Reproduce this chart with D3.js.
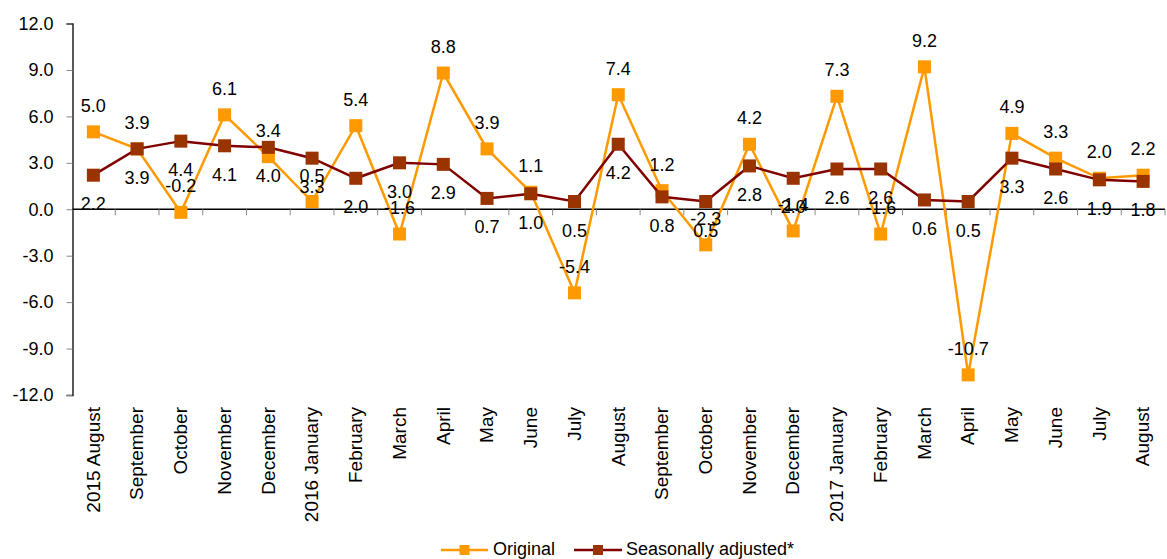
<!DOCTYPE html>
<html>
<head>
<meta charset="utf-8">
<script src="https://cdn.jsdelivr.net/npm/d3@7"></script>
<style>
  html, body { margin: 0; padding: 0; background: #fff; }
  svg { display: block; font-family: "Liberation Sans", Arial, sans-serif; }
</style>
</head>
<body>
<svg id="chart" width="1167" height="559"></svg>
<script>
// Monthly change, per cent
const months = [
  "2015 August", "September", "October", "November", "December",
  "2016 January", "February", "March", "April", "May", "June", "July",
  "August", "September", "October", "November", "December",
  "2017 January", "February", "March", "April", "May", "June", "July", "August"
];
const original = [5.0, 3.9, -0.2, 6.1, 3.4, 0.5, 5.4, -1.6, 8.8, 3.9, 1.1, -5.4,
  7.4, 1.2, -2.3, 4.2, -1.4, 7.3, -1.6, 9.2, -10.7, 4.9, 3.3, 2.0, 2.2];
const seasonallyAdjusted = [2.2, 3.9, 4.4, 4.1, 4.0, 3.3, 2.0, 3.0, 2.9, 0.7, 1.0, 0.5,
  4.2, 0.8, 0.5, 2.8, 2.0, 2.6, 2.6, 0.6, 0.5, 3.3, 2.6, 1.9, 1.8];
const yTicks = [-12, -9, -6, -3, 0, 3, 6, 9, 12];
const seriesNames = ["Original", "Seasonally adjusted*"];

// one decimal, plain hyphen for negatives
const fmt = d => d.toFixed(1);

const svg = d3.select("#chart");
const keys = months.map((m, i) => i);

const x = d3.scaleBand().domain(keys).range([71.5, 1165]).paddingInner(0).paddingOuter(0);
const y = d3.scaleLinear().domain([-12, 12]).range([395, 23.5]);
const cx = i => x(i) + x.bandwidth() / 2;

const series = [
  { name: seriesNames[0], values: original, line: "#FF9900", marker: "#FF9900", labelDy: -20 },
  { name: seriesNames[1], values: seasonallyAdjusted, line: "#800000", marker: "#993300", labelDy: 35 }
];

// Y axis
const yAxis = svg.append("g").attr("transform", "translate(72.5,0)")
  .call(d3.axisLeft(y).tickValues(yTicks).tickFormat(fmt).tickSize(6).tickPadding(13));
yAxis.select(".domain").attr("stroke", "#000").attr("stroke-width", 1.3);
yAxis.selectAll(".tick line").attr("stroke", "#888");
yAxis.selectAll(".tick text").attr("font-size", 18).attr("fill", "#000")
  .attr("font-family", "Liberation Sans, Arial, sans-serif");

// X axis along zero, ticks at category boundaries
const xAxisG = svg.append("g").attr("transform", `translate(0,${y(0)})`);
xAxisG.append("line").attr("x1", 72.5).attr("x2", 1165).attr("y1", 0).attr("y2", 0)
  .attr("stroke", "#000").attr("stroke-width", 1.3);
const bounds = keys.slice(1).map(k => x(k)).concat([x(keys.length - 1) + x.bandwidth()]);
xAxisG.selectAll("line.tick").data(bounds).join("line")
  .attr("class", "tick")
  .attr("x1", d => d).attr("x2", d => d)
  .attr("y1", 0).attr("y2", 6).attr("stroke", "#888");

// Category labels below the plot, rotated
svg.append("g").selectAll("text").data(keys).join("text")
  .attr("transform", d => `translate(${cx(d)},407) rotate(-90)`)
  .attr("text-anchor", "end").attr("dy", "0.33em")
  .attr("font-size", 19).attr("fill", "#000")
  .text(d => months[d]);

// Series lines and markers
const line = d3.line().x((d, i) => cx(i)).y(d => y(d));
series.forEach(s => {
  const g = svg.append("g");
  g.append("path").datum(s.values).attr("d", line)
    .attr("fill", "none").attr("stroke", s.line).attr("stroke-width", 2.5)
    .attr("stroke-linejoin", "miter");
  g.selectAll("rect").data(s.values).join("rect")
    .attr("x", (d, i) => cx(i) - 6.5).attr("y", d => y(d) - 6.5)
    .attr("width", 13).attr("height", 13).attr("fill", s.marker);
});

// Value labels
series.forEach(s => {
  svg.append("g").selectAll("text").data(s.values).join("text")
    .attr("x", (d, i) => cx(i)).attr("y", d => y(d) + s.labelDy)
    .attr("text-anchor", "middle").attr("font-size", 18).attr("fill", "#000")
    .text(d => fmt(d));
});

// Legend
const legendItems = [
  { s: series[0], x0: 441, x1: 488, tx: 493 },
  { s: series[1], x0: 574, x1: 622, tx: 626 }
];
const lg = svg.append("g");
legendItems.forEach(it => {
  lg.append("line").attr("x1", it.x0).attr("x2", it.x1).attr("y1", 550).attr("y2", 550)
    .attr("stroke", it.s.line).attr("stroke-width", 2.5);
  lg.append("rect").attr("x", (it.x0 + it.x1) / 2 - 5).attr("y", 545).attr("width", 10).attr("height", 10)
    .attr("fill", it.s.marker);
  lg.append("text").attr("x", it.tx).attr("y", 555).attr("font-size", 18).attr("fill", "#000")
    .text(it.s.name);
});
</script>
</body>
</html>
